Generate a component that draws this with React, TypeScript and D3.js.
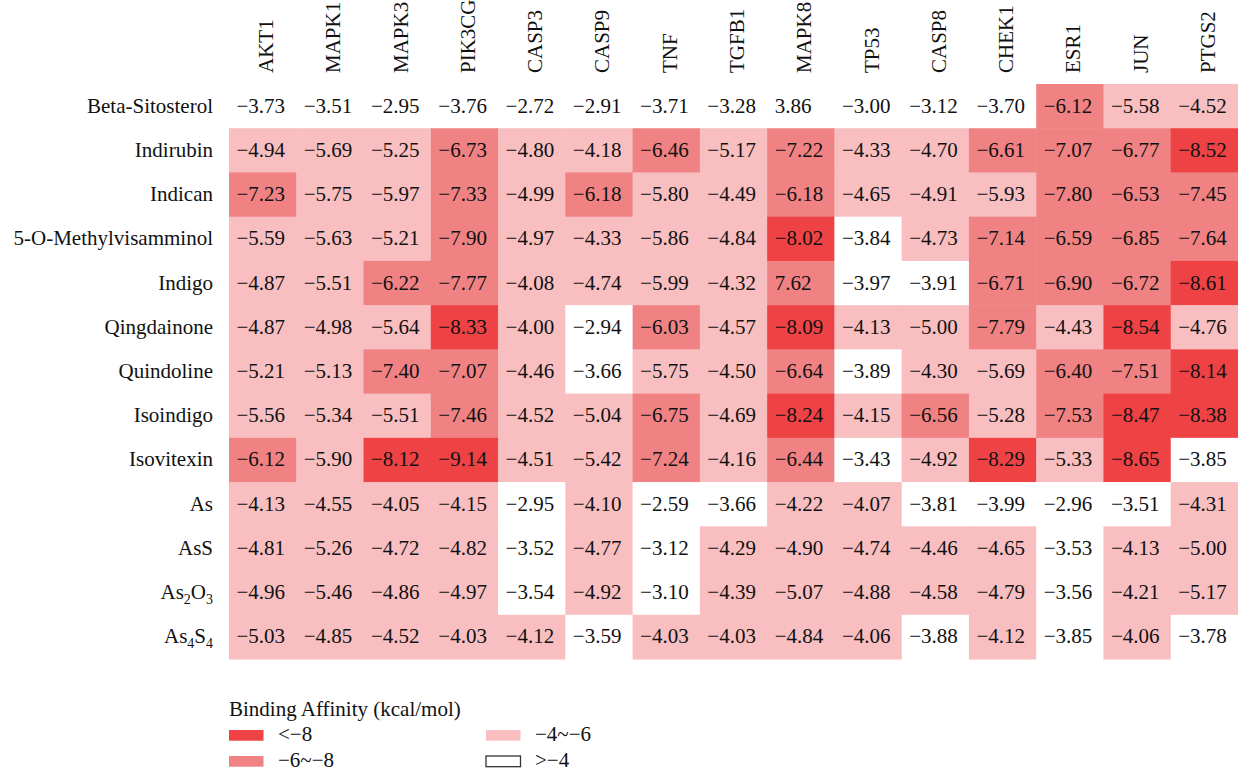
import React from "react";
import * as d3 from "d3";

const compounds = [
  "Beta-Sitosterol",
  "Indirubin",
  "Indican",
  "5-O-Methylvisamminol",
  "Indigo",
  "Qingdainone",
  "Quindoline",
  "Isoindigo",
  "Isovitexin",
  "As",
  "AsS",
  "As2O3",
  "As4S4",
];

const targets = [
  "AKT1", "MAPK1", "MAPK3", "PIK3CG", "CASP3", "CASP9", "TNF", "TGFB1",
  "MAPK8", "TP53", "CASP8", "CHEK1", "ESR1", "JUN", "PTGS2",
];

// Values as printed in the table (two printed without their minus sign)
const betaSitosterol = [-3.73, -3.51, -2.95, -3.76, -2.72, -2.91, -3.71, -3.28, 3.86, -3.0, -3.12, -3.7, -6.12, -5.58, -4.52];
const indirubin = [-4.94, -5.69, -5.25, -6.73, -4.8, -4.18, -6.46, -5.17, -7.22, -4.33, -4.7, -6.61, -7.07, -6.77, -8.52];
const indican = [-7.23, -5.75, -5.97, -7.33, -4.99, -6.18, -5.8, -4.49, -6.18, -4.65, -4.91, -5.93, -7.8, -6.53, -7.45];
const methylvisamminol = [-5.59, -5.63, -5.21, -7.9, -4.97, -4.33, -5.86, -4.84, -8.02, -3.84, -4.73, -7.14, -6.59, -6.85, -7.64];
const indigo = [-4.87, -5.51, -6.22, -7.77, -4.08, -4.74, -5.99, -4.32, 7.62, -3.97, -3.91, -6.71, -6.9, -6.72, -8.61];
const qingdainone = [-4.87, -4.98, -5.64, -8.33, -4.0, -2.94, -6.03, -4.57, -8.09, -4.13, -5.0, -7.79, -4.43, -8.54, -4.76];
const quindoline = [-5.21, -5.13, -7.4, -7.07, -4.46, -3.66, -5.75, -4.5, -6.64, -3.89, -4.3, -5.69, -6.4, -7.51, -8.14];
const isoindigo = [-5.56, -5.34, -5.51, -7.46, -4.52, -5.04, -6.75, -4.69, -8.24, -4.15, -6.56, -5.28, -7.53, -8.47, -8.38];
const isovitexin = [-6.12, -5.9, -8.12, -9.14, -4.51, -5.42, -7.24, -4.16, -6.44, -3.43, -4.92, -8.29, -5.33, -8.65, -3.85];
const arsenic = [-4.13, -4.55, -4.05, -4.15, -2.95, -4.1, -2.59, -3.66, -4.22, -4.07, -3.81, -3.99, -2.96, -3.51, -4.31];
const realgarAsS = [-4.81, -5.26, -4.72, -4.82, -3.52, -4.77, -3.12, -4.29, -4.9, -4.74, -4.46, -4.65, -3.53, -4.13, -5.0];
const arsenicTrioxide = [-4.96, -5.46, -4.86, -4.97, -3.54, -4.92, -3.1, -4.39, -5.07, -4.88, -4.58, -4.79, -3.56, -4.21, -5.17];
const realgarAs4S4 = [-5.03, -4.85, -4.52, -4.03, -4.12, -3.59, -4.03, -4.03, -4.84, -4.06, -3.88, -4.12, -3.85, -4.06, -3.78];

const affinity = [
  betaSitosterol, indirubin, indican, methylvisamminol, indigo, qingdainone,
  quindoline, isoindigo, isovitexin, arsenic, realgarAsS, arsenicTrioxide, realgarAs4S4,
];

const legendTitle = "Binding Affinity (kcal/mol)";
const legendLabels = ["<\u22128", "\u22126~\u22128", "\u22124~\u22126", ">\u22124"];
const binThresholds = [-8, -6, -3.995];
const binColors = ["#EE4244", "#F08284", "#F8BEC0", "#FFFFFF"];

const FONT = "'Liberation Serif', 'Times New Roman', serif";
const FS = 21;

function SubLabel({ text }: { text: string }) {
  const parts = text.split(/(?<=[A-Za-z])(\d+)/);
  return (
    <>
      {parts.map((p, i) =>
        i % 2 === 1 ? (
          <tspan key={i} fontSize={14} dy={5}>{p}</tspan>
        ) : (
          <tspan key={i} dy={i > 0 ? -5 : 0}>{p}</tspan>
        )
      )}
    </>
  );
}

export default function App() {
  const W = 1238;
  const H = 771;
  const x = d3.scaleBand<string>().domain(targets).range([229, 1238]);
  const y = d3.scaleBand<string>().domain(compounds).range([84, 659]);
  const color = d3.scaleThreshold<number, string>().domain(binThresholds).range(binColors);
  const fmt = d3.format(".2f");
  const bw = x.bandwidth();
  const bh = y.bandwidth();

  const legendPos = [
    { x: 229, y: 730 },
    { x: 229, y: 756 },
    { x: 486, y: 730 },
    { x: 486, y: 756 },
  ];

  return (
    <svg
      width={W}
      height={H}
      style={{ position: "absolute", left: 0, top: 0, display: "block", background: "#fff" }}
      fontFamily={FONT}
    >
      {/* cells */}
      {compounds.map((c, ri) =>
        targets.map((t, ci) => {
          const v = affinity[ri][ci];
          return (
            <rect
              key={c + t}
              x={x(t)}
              y={y(c)}
              width={bw + 0.5}
              height={bh + 0.5}
              fill={color(-Math.abs(v))}
            />
          );
        })
      )}
      {compounds.map((c, ri) =>
        targets.map((t, ci) => {
          const v = affinity[ri][ci];
          return (
            <text
              key={"t" + c + t}
              x={(x(t) as number) + 7.5}
              y={(y(c) as number) + bh / 2 + 6.5}
              fontSize={FS}
              fill="#111"
            >
              {fmt(v)}
            </text>
          );
        })
      )}
      {/* row labels */}
      {compounds.map((c) => (
        <text
          key={"r" + c}
          x={213}
          y={(y(c) as number) + bh / 2 + 6.5}
          textAnchor="end"
          fontSize={FS}
          fill="#111"
        >
          <SubLabel text={c} />
        </text>
      ))}
      {/* column labels */}
      {targets.map((t) => {
        const cx = (x(t) as number) + bw / 2 + 10.5;
        return (
          <text
            key={"c" + t}
            transform={`translate(${cx},73) rotate(-90)`}
            textAnchor="start"
            fontSize={FS}
            fill="#111"
          >
            {t}
          </text>
        );
      })}
      {/* legend */}
      <text x={229} y={716} fontSize={FS} fill="#111">{legendTitle}</text>
      {legendLabels.map((l, i) => (
        <g key={"lg" + i}>
          <rect
            x={legendPos[i].x}
            y={legendPos[i].y}
            width={34.5}
            height={10.7}
            fill={binColors[i]}
            stroke={i === 3 ? "#333" : "none"}
            strokeWidth={1.3}
          />
          <text x={legendPos[i].x + 49} y={legendPos[i].y + 10.5} fontSize={FS} fill="#111">
            {l}
          </text>
        </g>
      ))}
    </svg>
  );
}
